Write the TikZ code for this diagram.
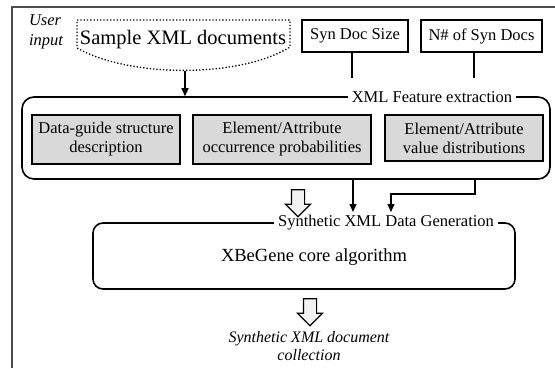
\documentclass[tikz,border=0pt]{standalone}
\usepackage{fontspec}
\setmainfont{Liberation Serif}
\usetikzlibrary{positioning,arrows.meta,shapes.arrows}

\begin{document}
\begin{tikzpicture}[x=1pt,y=-1pt,line width=1.4pt,
    txt/.style={font=\fontsize{16.5}{19}\selectfont},
    plainbox/.style={draw,txt,inner sep=0pt,minimum height=32pt},
    featbox/.style={draw,txt,fill=black!15,align=center,inner sep=0pt,minimum height=49pt},
    roundbox/.style={draw,rounded corners=12pt,line width=1.6pt,inner sep=0pt},
    boxlabel/.style={txt,fill=white,inner sep=4pt},
    hollow/.style={single arrow,draw,fill=black!5,rotate=-90,line width=1.2pt,
        inner sep=6pt,single arrow head extend=6pt,minimum height=27pt},
    feed/.style={-{Triangle[length=8pt,width=7pt]}}
]
    \useasboundingbox (0,0) rectangle (555,368);
    %
    \draw[gray!60!black,line width=2pt] (12,368) -- (12,7) -- (555,7);%frame
    %
    \node[font=\fontsize{16.5}{20}\selectfont\itshape,align=left] (user) at (46,32) {User\\input};
    \node[font=\fontsize{20.5}{24}\selectfont] (sample) at (183,40) {Sample XML documents};
    \draw[dotted,line width=1.3pt] (77,20) -- (290,20) -- (290,47)
        .. controls (240,78) and (130,78) .. (77,48) -- cycle;
    \coordinate (samplebot) at (185,71);
    %
    \node[plainbox,minimum width=106pt] (size) at (355,36) {Syn Doc Size};
    \node[plainbox,minimum width=121pt] (count) at (481.5,36) {N\# of Syn Docs};
    \coordinate (sizeend) at (352,78);
    \coordinate (countend) at (474,78);
    \draw (size.south -| sizeend) -- (sizeend);
    \draw (count.south -| countend) -- (countend);
    %
    \node[roundbox,minimum width=528pt,minimum height=82pt] (feat) at (286,138) {};
    \node[boxlabel] (featlbl) at (432,97) {XML Feature extraction};
    \node[featbox,minimum width=148pt] (guide) at (106,139.5) {Data-guide structure\\description};
    \node[featbox,minimum width=178pt] (occur) at (282,139.5) {Element/Attribute\\occurrence probabilities};
    \node[featbox,minimum width=158pt,minimum height=46pt] (valdist) at (464,138) {Element/Attribute\\value distributions};
    \draw[feed] (samplebot) -- (samplebot |- feat.north);
    %
    \node[roundbox,rounded corners=10pt,minimum width=422pt,minimum height=66pt] (gen) at (304,256) {};
    \node[boxlabel] (genlbl) at (386,223) {Synthetic XML Data Generation};
    \node[font=\fontsize{18.5}{22}\selectfont] (core) at (314,257) {XBeGene core algorithm};
    %
    \coordinate (midin) at (353,212);
    \coordinate (rightout) at (475,0);
    \coordinate (rightin) at (391,212);
    \draw[feed] (feat.south -| midin) -- (midin);
    \draw[feed] (feat.south -| rightout) -- ++(0,14) -| (rightin);
    \node[hollow] (togen) at (298,200) {};
    %
    \node[hollow] (toout) at (310,309) {};
    \node[font=\fontsize{16}{18}\selectfont\itshape,align=center] (output) at (309,346)
        {Synthetic XML document\\collection};
    %
\end{tikzpicture}
\end{document}
